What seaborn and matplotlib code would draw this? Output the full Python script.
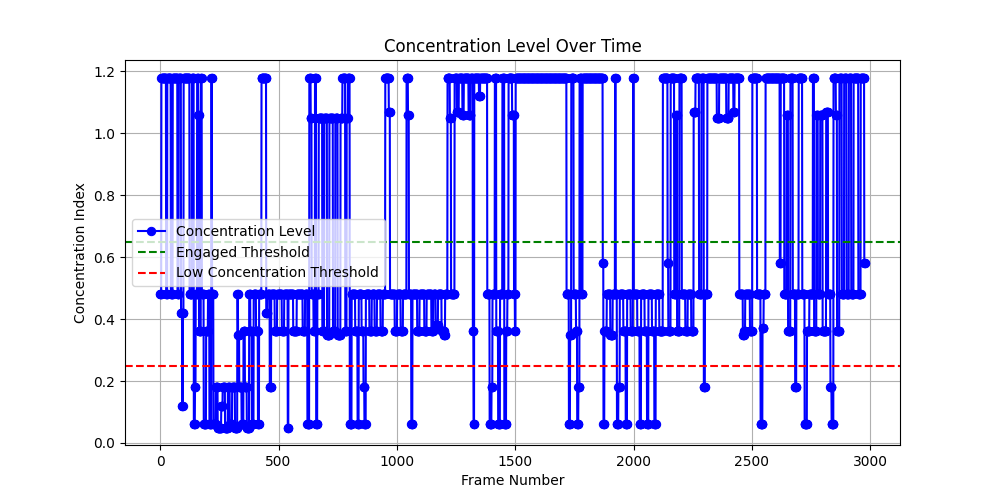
import numpy as np
import pandas as pd
import seaborn as sns
import matplotlib.pyplot as plt

# concentration index as (value, number of frames) runs
runs = [
    (0.48, 5), (1.18, 20), (0.48, 5), (1.18, 15), (0.48, 8), (1.18, 20), (0.48, 5), (1.18, 10),
    (0.42, 5), (0.12, 3), (0.42, 3), (1.18, 25), (0.48, 10), (1.18, 8),
    (0.06, 5), (0.18, 3), (0.48, 6), (1.18, 5), (1.06, 3), (0.36, 8), (1.18, 4), (0.48, 8),
    (0.06, 10), (0.36, 8), (0.48, 6), (0.06, 8), (1.18, 3), (0.48, 6),
    (0.06, 10), (0.18, 8), (0.05, 15), (0.12, 6), (0.18, 10), (0.05, 12), (0.18, 8), (0.06, 10),
    (0.18, 12), (0.05, 10), (0.48, 3), (0.35, 5), (0.18, 10), (0.06, 8), (0.36, 6), (0.18, 8),
    (0.05, 10), (0.48, 5), (0.36, 6), (0.06, 8),
    (0.48, 10), (0.36, 8), (0.06, 5), (0.48, 10), (1.18, 20), (0.42, 5), (0.48, 10), (0.18, 6),
    (0.48, 15), (0.36, 10), (0.48, 20), (0.36, 10), (0.48, 15), (0.05, 3), (0.48, 20), (0.36, 15),
    (0.48, 25), (0.36, 10), (0.48, 10),
    (0.06, 8), (1.18, 6), (1.05, 4), (0.48, 8), (0.36, 6), (1.18, 5), (0.06, 5), (0.48, 6),
    (1.05, 15), (0.36, 8), (1.05, 12), (0.35, 10), (1.05, 15), (0.36, 10), (1.05, 10), (0.35, 12),
    (1.05, 8), (1.18, 12), (0.36, 6), (1.05, 5), (1.18, 8),
    (0.06, 8), (0.48, 15), (0.36, 10), (0.06, 5), (0.48, 12), (0.36, 8), (0.18, 4), (0.06, 6),
    (0.48, 15), (0.36, 10), (0.48, 12), (0.36, 10), (0.48, 15), (0.36, 10), (0.48, 10),
    (1.18, 15), (1.07, 5), (0.48, 20), (0.36, 10), (0.48, 15), (0.36, 10), (0.48, 15), (1.18, 6),
    (1.06, 4), (0.48, 10), (0.06, 5), (0.48, 20), (0.36, 10), (0.48, 20), (0.36, 10), (0.48, 20),
    (0.36, 8), (0.48, 10),
    (0.38, 10), (0.48, 15), (0.36, 10), (0.35, 5), (0.48, 10),
    (1.18, 10), (1.05, 5), (0.48, 15), (1.18, 10), (1.07, 8), (1.18, 15), (1.06, 6), (1.18, 20),
    (1.06, 8), (1.18, 10), (0.36, 3), (0.06, 3), (1.18, 20), (1.12, 5), (1.18, 30),
    (0.48, 10), (0.06, 8), (0.18, 4), (0.48, 10), (1.18, 6), (0.36, 8), (0.06, 8), (0.48, 10),
    (1.18, 8), (0.06, 8), (0.36, 5), (0.48, 5), (1.18, 15), (1.06, 8), (0.48, 4), (0.36, 3),
    (1.18, 215),
    (0.48, 10), (0.06, 5), (0.35, 5), (1.18, 10), (0.48, 10), (0.36, 5), (0.06, 5), (0.18, 5),
    (1.18, 8), (0.48, 5),
    (1.18, 85),
    (0.58, 3), (0.06, 4), (0.36, 10), (0.48, 15), (0.35, 10), (0.48, 10), (1.18, 3), (0.48, 5),
    (0.06, 6), (0.18, 6), (0.48, 15), (0.36, 10), (0.06, 6), (0.48, 15), (0.36, 10), (1.18, 3),
    (0.48, 15), (0.36, 10), (0.06, 6), (0.48, 15), (0.36, 10), (0.06, 6), (0.48, 15), (0.36, 10),
    (0.06, 6), (0.48, 15), (0.36, 15),
    (1.18, 20), (0.58, 3), (0.36, 10), (1.18, 15), (0.48, 8), (1.06, 4), (0.36, 10), (1.18, 10),
    (0.48, 15), (0.36, 10), (0.48, 15), (0.36, 10), (1.07, 8), (1.18, 15), (0.48, 10), (1.18, 10),
    (0.18, 5), (0.48, 10),
    (1.18, 40), (1.05, 10), (1.18, 30), (1.05, 10), (1.18, 20), (1.07, 5), (1.18, 20),
    (0.48, 15), (0.35, 5), (0.36, 5), (0.48, 20), (0.36, 10), (1.18, 20), (0.48, 15), (0.06, 8),
    (0.37, 5), (0.48, 8), (1.18, 60),
    (0.58, 4), (1.18, 15), (0.48, 10), (1.06, 6), (0.36, 10), (1.18, 10), (0.48, 10), (0.18, 5),
    (0.48, 10), (1.18, 15), (0.48, 10), (0.06, 10), (0.36, 10), (0.48, 15), (1.18, 5), (0.36, 10),
    (1.06, 6), (0.48, 10), (1.06, 10), (0.36, 15), (1.07, 8), (0.48, 10), (0.18, 5), (0.06, 8),
    (1.18, 10), (1.06, 5), (0.36, 10), (1.18, 10), (0.48, 10), (1.18, 10), (0.48, 10), (1.18, 10),
    (0.48, 10), (1.18, 20), (0.48, 10), (1.18, 15), (0.58, 3),
]
engaged_threshold = 0.65
low_threshold = 0.25

levels = np.repeat([v for v, n in runs], [n for v, n in runs])
df = pd.DataFrame({'frame': np.arange(len(levels)), 'level': levels})

plt.figure(figsize=(10, 5))
sns.lineplot(x='frame', y='level', data=df, color='blue', marker='o',
             markeredgecolor='blue', label='Concentration Level')
plt.axhline(engaged_threshold, color='green', linestyle='--', label='Engaged Threshold')
plt.axhline(low_threshold, color='red', linestyle='--', label='Low Concentration Threshold')
plt.title('Concentration Level Over Time')
plt.xlabel('Frame Number')
plt.ylabel('Concentration Index')
plt.legend(loc='center left')
plt.grid(True)
plt.savefig('out.png', dpi=100)
